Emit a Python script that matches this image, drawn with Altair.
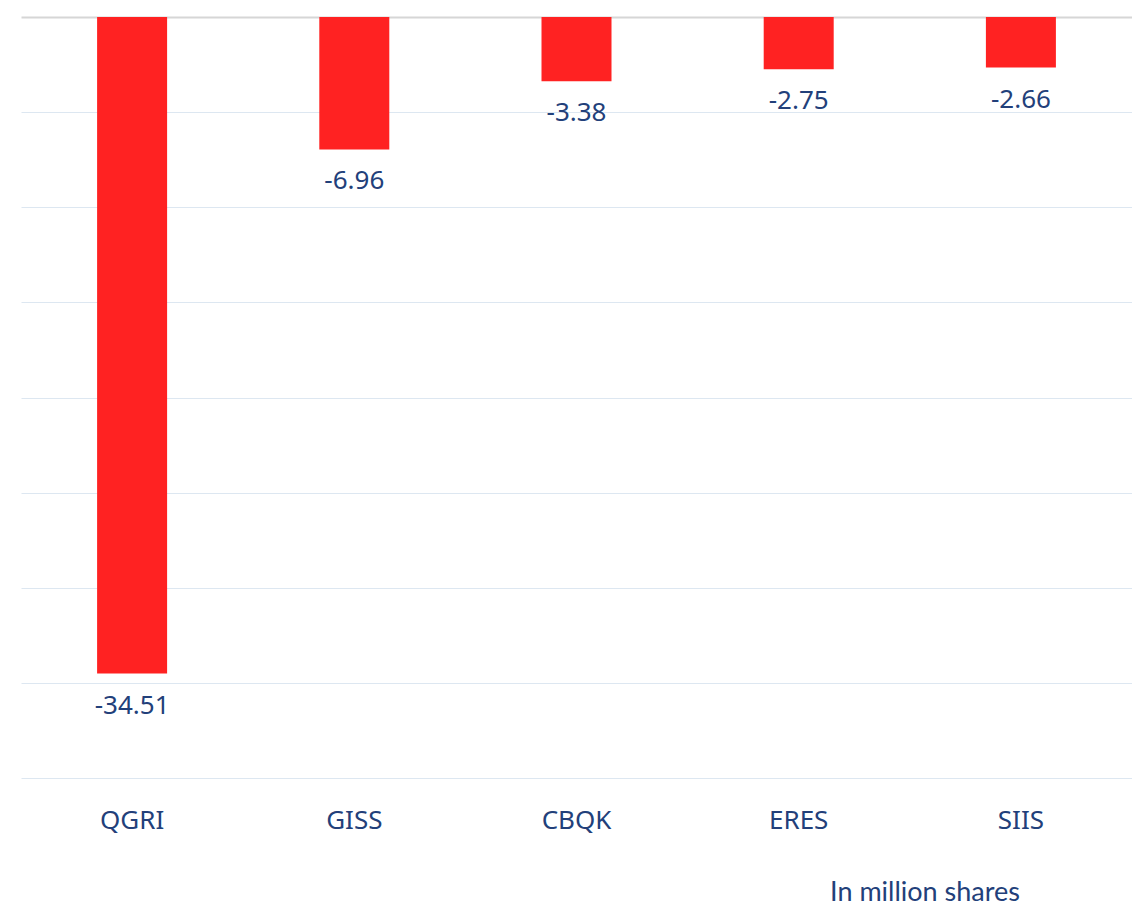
import altair as alt
import pandas as pd

companies = ["QGRI", "GISS", "CBQK", "ERES", "SIIS"]
values = [-34.51, -6.96, -3.38, -2.75, -2.66]
grid_values = [0, -5, -10, -15, -20, -25, -30, -35, -40]

df = pd.DataFrame({"company": companies, "value": values})
df["label"] = [f"{v:.2f}" for v in values]

NAVY = "#22407a"

x = alt.X(
    "company:N",
    sort=companies,
    scale=alt.Scale(paddingInner=0, paddingOuter=0),
    axis=alt.Axis(
        title=None, labelAngle=0, domain=False, ticks=False,
        labelFont="Noto Sans", labelFontSize=26, labelColor=NAVY,
        labelPadding=29, grid=False,
    ),
)
y = alt.Y(
    "value:Q",
    scale=alt.Scale(domain=[-40, 0], nice=False, zero=True),
    axis=alt.Axis(
        title=None, labels=False, ticks=False, domain=False,
        values=grid_values, grid=True,
        gridColor=alt.condition("datum.value === 0", alt.value("#d6d6d6"), alt.value("#dde7f1")),
        gridWidth=alt.condition("datum.value === 0", alt.value(2), alt.value(1.2)),
    ),
)

bars = alt.Chart(df).mark_bar(color="#FF2222", size=70).encode(x=x, y=y)
labels = alt.Chart(df).mark_text(
    baseline="middle", align="center", dy=32,
    font="Noto Sans", fontSize=26, color=NAVY,
).encode(x=x, y=y, text="label:N")

chart = (bars + labels).properties(
    width=1111, height=761,
    title=alt.TitleParams(
        "In million shares", orient="bottom", anchor="end",
        font="Lato", fontSize=27, fontWeight="normal", color=NAVY,
        dx=-112, offset=47,
    ),
    autosize=alt.AutoSizeParams(type="none"),
    padding={"left": 13, "top": 9, "right": 0, "bottom": 135},
).configure(background="white").configure_view(stroke=None)

chart.save("out.html", embed_options={"renderer": "svg", "actions": False})
